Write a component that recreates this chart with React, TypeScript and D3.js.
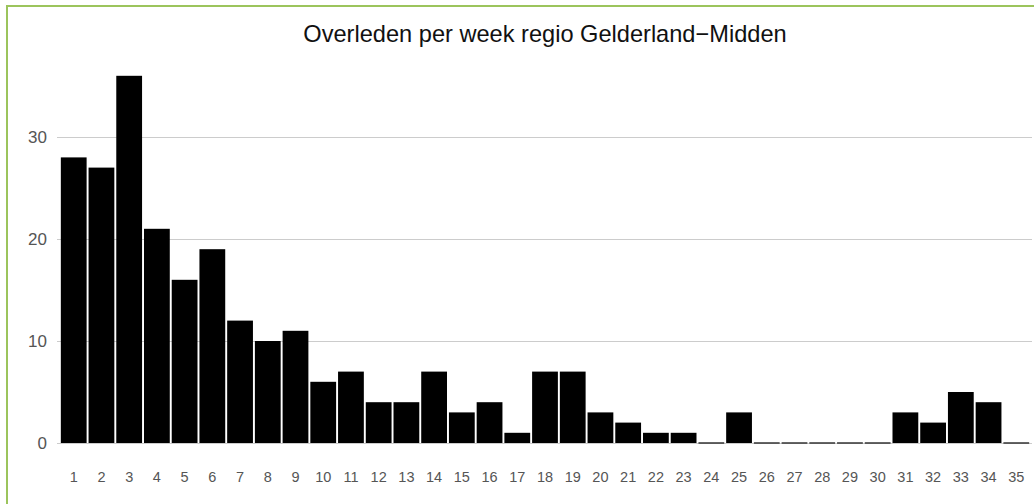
import React from 'react';
import * as d3 from 'd3';

const weeks = d3.range(1, 36).map(String);
const deaths = [28, 27, 36, 21, 16, 19, 12, 10, 11, 6, 7, 4, 4, 7, 3, 4, 1, 7, 7, 3, 2, 1, 1, 0, 3, 0, 0, 0, 0, 0, 3, 2, 5, 4, 0];
const yTicks = [0, 10, 20, 30];
const title = 'Overleden per week regio Gelderland\u2212Midden';

const W = 1034;
const H = 504;

const App: React.FC = () => {
  const x = d3.scaleBand<string>().domain(weeks).range([60, 1030]).paddingInner(0.07).paddingOuter(0.03);
  const y = d3.scaleLinear().domain([0, 30]).range([443, 137]);
  const font = '"Liberation Sans", Arial, sans-serif';

  return (
    <div style={{ position: 'fixed', left: 0, top: 0, width: W, height: H, background: '#fff' }}>
      <svg width={W} height={H} style={{ display: 'block' }}>
        <rect x={7} y={6} width={1200} height={700} fill="none" stroke="#9cc45c" strokeWidth={2} />
        <text x={545} y={42} textAnchor="middle" fontFamily={font} fontSize={23.6} fill="#111">
          {title}
        </text>
        {yTicks.map((t) => (
          <g key={t}>
            <line x1={57} x2={1032} y1={Math.round(y(t)) + 0.5} y2={Math.round(y(t)) + 0.5} stroke="#cccccc" strokeWidth={1} />
            <text x={47} y={y(t) + 6} textAnchor="end" fontFamily={font} fontSize={17} fill="#555">
              {t}
            </text>
          </g>
        ))}
        {weeks.map((w, i) => {
          const v = deaths[i];
          const bx = x(w) ?? 0;
          if (v === 0) {
            return (
              <line key={w} x1={bx} x2={bx + x.bandwidth()} y1={y(0)} y2={y(0)} stroke="#333" strokeWidth={1.5} />
            );
          }
          return <rect key={w} x={bx} y={y(v)} width={x.bandwidth()} height={y(0) - y(v)} fill="#000" />;
        })}
        {weeks.map((w) => (
          <text
            key={w}
            x={(x(w) ?? 0) + x.bandwidth() / 2}
            y={482}
            textAnchor="middle"
            fontFamily={font}
            fontSize={14.5}
            fill="#555"
          >
            {w}
          </text>
        ))}
      </svg>
    </div>
  );
};

export default App;
